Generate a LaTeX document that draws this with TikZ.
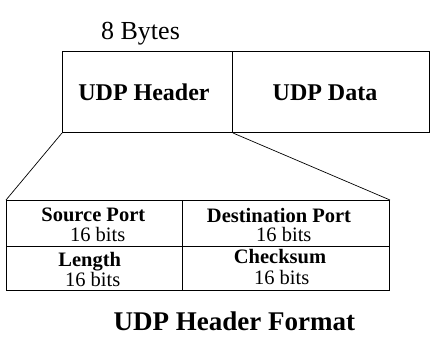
\documentclass[tikz,border=0pt]{standalone}
\usepackage{fontspec}
\setmainfont{Liberation Serif}
\begin{document}
\begin{tikzpicture}[x=1pt,y=-1pt,
  box/.style={draw, line width=1pt, inner sep=0, anchor=north west},
  conn/.style={draw, line width=0.7pt},
  txt/.style={inner sep=0, anchor=base},
  big/.style={font=\fontsize{26}{30}\selectfont},
  hb/.style={font=\fontsize{24}{28}\selectfont\bfseries},
  cb/.style={font=\fontsize{20.5}{24}\selectfont\bfseries},
  cr/.style={font=\fontsize{20.5}{24}\selectfont},
  tb/.style={font=\fontsize{27}{32}\selectfont\bfseries}]
\useasboundingbox (0,0) rectangle (445,346);
% top boxes
\node[box, minimum width=170pt, minimum height=81pt] (hdr) at (62,51) {};
\node[box, minimum width=197pt, minimum height=81pt] (data) at (232,51) {};
% table cells
\node[box, minimum width=175.7pt, minimum height=45.7pt] (sp) at (6,200) {};
\node[box, minimum width=207.3pt, minimum height=45.7pt] (dp) at (181.7,200) {};
\node[box, minimum width=175.7pt, minimum height=44.3pt] (ln) at (6,245.7) {};
\node[box, minimum width=207.3pt, minimum height=44.3pt] (cs) at (181.7,245.7) {};
% connectors
\draw[conn] (hdr.south west) -- (sp.north west);
\draw[conn] (hdr.south east) -- (dp.north east);
% texts
\node[txt, big] (bytes) at (140.5,39) {8 Bytes};
\node[txt, hb] (hdrt) at (144,100) {UDP Header};
\node[txt, hb] (datat) at (325,100) {UDP Data};
\node[txt, cb] (spt) at (93.3,221.7) {Source Port};
\node[txt, cr] (spb) at (97.7,241.7) {16 bits};
\node[txt, cb] (dpt) at (279,222.3) {Destination Port};
\node[txt, cr] (dpb) at (283.8,241.7) {16 bits};
\node[txt, cb] (lnt) at (89.7,266.7) {Length};
\node[txt, cr] (lnb) at (92.7,286.7) {16 bits};
\node[txt, cb] (cst) at (280,263.3) {Checksum};
\node[txt, cr] (csb) at (281.7,284.3) {16 bits};
\node[txt, tb] (title) at (234.3,330) {UDP Header Format};
\end{tikzpicture}
\end{document}
